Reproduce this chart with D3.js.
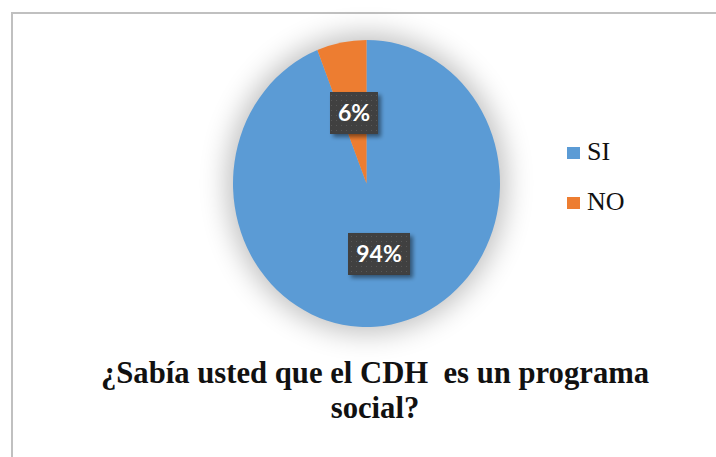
<!DOCTYPE html>
<html>
<head>
<meta charset="utf-8">
<script src="https://cdn.jsdelivr.net/npm/d3@7"></script>
<style>
  html, body { margin: 0; padding: 0; background: #ffffff; }
  svg { display: block; }
</style>
</head>
<body>
<svg id="chart" width="716" height="457"></svg>
<script>
const categories = ["SI", "NO"];
const values = [94, 6];
const labels = ["94%", "6%"];
const colors = ["#5B9BD5", "#ED7D31"];
const titleLines = ["¿Sabía usted que el CDH  es un programa", "social?"];

const svg = d3.select("#chart");
const defs = svg.append("defs");

// soft shadow around pie
const blur = defs.append("filter").attr("id", "pieShadow")
  .attr("x", "-40%").attr("y", "-40%").attr("width", "180%").attr("height", "180%");
blur.append("feGaussianBlur").attr("stdDeviation", 14);

const boxShadow = defs.append("filter").attr("id", "boxShadow")
  .attr("x", "-30%").attr("y", "-30%").attr("width", "160%").attr("height", "160%");
boxShadow.append("feGaussianBlur").attr("in", "SourceAlpha").attr("stdDeviation", 2).attr("result", "b");
boxShadow.append("feOffset").attr("in", "b").attr("dx", 3).attr("dy", 3).attr("result", "o");
boxShadow.append("feComponentTransfer").attr("in", "o").attr("result", "o2")
  .append("feFuncA").attr("type", "linear").attr("slope", 0.45);
const merge = boxShadow.append("feMerge");
merge.append("feMergeNode").attr("in", "o2");
merge.append("feMergeNode").attr("in", "SourceGraphic");

const pat = defs.append("pattern").attr("id", "dots")
  .attr("width", 5).attr("height", 5).attr("patternUnits", "userSpaceOnUse");
pat.append("rect").attr("width", 5).attr("height", 5).attr("fill", "#3f3f3f");
pat.append("rect").attr("x", 2).attr("y", 2).attr("width", 1).attr("height", 1).attr("fill", "#5a5a5a");

// frame
svg.append("rect").attr("x", 12).attr("y", 13).attr("width", 740).attr("height", 480)
  .attr("fill", "#ffffff").attr("stroke", "#c0c0c0").attr("stroke-width", 2);

const cx = 366.5, cy = 183.5, ry = 143.5, sx = 133.5 / 143.5;

const pie = d3.pie().sort(null).value(d => d)(values);
const arc = d3.arc().innerRadius(0).outerRadius(ry);

const g = svg.append("g").attr("transform", `translate(${cx},${cy})`);

g.append("ellipse").attr("cx", 0).attr("cy", 0).attr("rx", ry * sx + 6).attr("ry", ry + 6)
  .attr("fill", "#000").attr("opacity", 0.25).attr("filter", "url(#pieShadow)");

const pg = g.append("g").attr("transform", `scale(${sx},1)`);
pg.selectAll("path").data(pie).join("path")
  .attr("d", arc)
  .attr("fill", (d, i) => colors[i]);

// data labels
const boxW = [62, 48], boxH = 42;
pie.forEach((d, i) => {
  const c = arc.centroid(d);
  const x = c[0] * sx, y = c[1];
  const lg = g.append("g").attr("transform", `translate(${x},${y})`);
  lg.append("rect").attr("x", -boxW[i] / 2).attr("y", -boxH / 2)
    .attr("width", boxW[i]).attr("height", boxH)
    .attr("fill", "url(#dots)").attr("filter", "url(#boxShadow)");
  lg.append("text").attr("text-anchor", "middle").attr("y", 8)
    .attr("fill", "#ffffff").attr("font-family", "Lato, 'Open Sans', sans-serif")
    .attr("font-weight", "bold").attr("font-size", 23)
    .text(labels[i]);
});

// legend
const leg = svg.append("g");
categories.forEach((c, i) => {
  const y = 160 + i * 50;
  leg.append("rect").attr("x", 567).attr("y", y - 13).attr("width", 13).attr("height", 12)
    .attr("fill", colors[i]);
  leg.append("text").attr("x", 587).attr("y", y)
    .attr("font-family", "'Liberation Serif', 'Times New Roman', serif")
    .attr("font-size", 26).attr("fill", "#111").text(c);
});

// title
const tg = svg.append("g").attr("transform", `translate(375,0) scale(0.99,1)`);
titleLines.forEach((t, i) => {
  tg.append("text").attr("x", 0).attr("y", 383 + i * 35)
    .attr("text-anchor", "middle")
    .attr("font-family", "'Liberation Serif', 'Times New Roman', serif")
    .attr("font-weight", "bold").attr("font-size", 31)
    .attr("fill", "#111").style("white-space", "pre")
    .text(t);
});
</script>
</body>
</html>
